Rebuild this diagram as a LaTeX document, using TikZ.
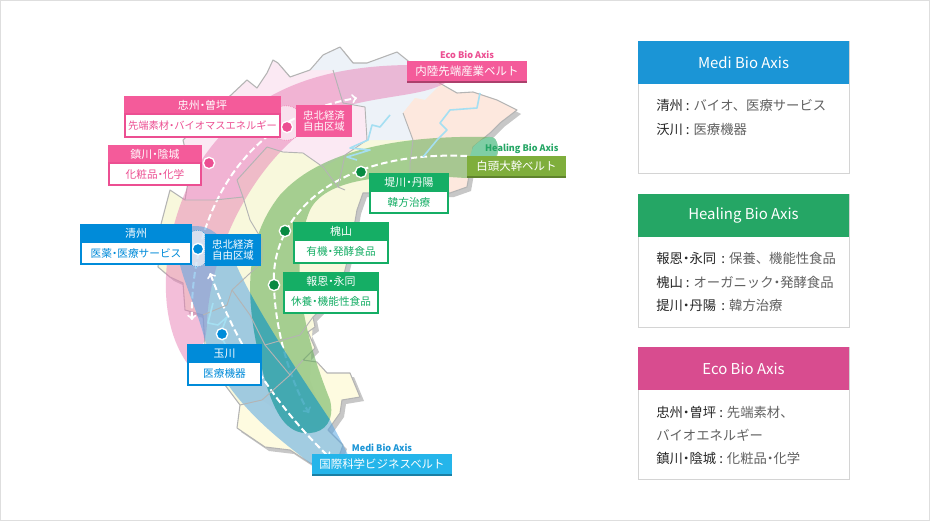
\documentclass[tikz,border=0pt]{standalone}
\usepackage{fontspec}
\setmainfont{Noto Sans CJK JP}
\usetikzlibrary{positioning}
\definecolor{ecopink}{HTML}{F45B9A}
\definecolor{ecotext}{HTML}{EC4F92}
\definecolor{medblue}{HTML}{008BD9}
\definecolor{healgreen}{HTML}{15AE65}
\definecolor{pingreen}{HTML}{088A42}
\definecolor{panelblue}{HTML}{1B95D6}
\definecolor{panelgreen}{HTML}{25A665}
\definecolor{panelpink}{HTML}{D84C8F}
\definecolor{beltsky}{HTML}{25B5EA}
\definecolor{beltolive}{HTML}{7FAE3C}
\definecolor{mapline}{HTML}{B4B4B4}
\definecolor{river}{HTML}{A5DFF2}
\definecolor{mapbase}{HTML}{F8F8DC}
\definecolor{mappink}{HTML}{FBE9F3}
\definecolor{mapsky}{HTML}{EDF2F8}
\definecolor{mappeach}{HTML}{FDE8DE}
\definecolor{mapcream}{HTML}{FEFBE0}
\definecolor{ecobelt}{HTML}{E87FB5}
\definecolor{healbelt}{HTML}{61AD52}
\definecolor{medbelt}{HTML}{58A6E3}
\definecolor{overlapteal}{HTML}{1FA0AA}
\definecolor{healmint}{HTML}{7FCEA5}
\newcommand{\nakaten}{\hspace{-.25em}・\hspace{-.25em}}
\newcommand{\mapoutline}{(247,80) -- (257,88) -- (267,73) -- (273,60) -- (278,63) -- (290,77) -- (310,70) -- (323,55) -- (340,47) -- (353,63) -- (367,63) -- (397,52) -- (407,60) -- (425,75) -- (443,85) -- (457,93) -- (473,92) -- (497,100) -- (517,110) -- (500,123) -- (490,133) -- (473,147) -- (470,170) -- (467,187) -- (450,193) -- (423,193) -- (363,193) -- (357,210) -- (350,250) -- (340,290) -- (313,317) -- (315,327) -- (308,332) -- (315,348) -- (303,360) -- (317,362) -- (327,373) -- (350,373) -- (360,397) -- (342,400) -- (340,413) -- (328,430) -- (343,445) -- (335,468) -- (310,463) -- (290,450) -- (265,447) -- (237,428) -- (240,405) -- (225,385) -- (205,345) -- (203,315) -- (185,310) -- (183,283) -- (170,277) -- (158,267) -- (160,228) -- (170,190) -- (185,200) -- (190,170) -- (183,140) -- (215,110) -- cycle}
\newcommand{\healpath}{(490,137) .. controls (400,135) and (320,150) .. (280,195) .. controls (240,245) and (245,310) .. (267,387) .. controls (275,410) and (285,435) .. (310,433) .. controls (325,432) and (335,420) .. (330,400) .. controls (310,350) and (285,270) .. (310,210) .. controls (325,180) and (380,172) .. (465,178) .. controls (485,178) and (500,160) .. (498,148) .. controls (497,140) and (495,137) .. (490,137) -- cycle}
\newcommand{\medipath}{(196,226) .. controls (210,226) and (222,235) .. (232,255) .. controls (250,300) and (290,360) .. (330,420) .. controls (340,440) and (350,455) .. (355,475) -- (330,476) .. controls (320,472) and (315,468) .. (310,463) .. controls (280,440) and (225,400) .. (205,340) .. controls (197,310) and (185,285) .. (180,265) .. controls (176,240) and (180,226) .. (196,226) -- cycle}
\tikzset{
>=to, % open arrow heads
wh/.style 2 args={minimum width=#1*0.75pt, minimum height=#2*0.75pt}, % sizes in pixels of the reference
labhead/.style={fill=#1, draw=#1, line width=0.8pt, text=white, inner sep=0pt, outer sep=0pt, font=\fontsize{8.2}{9}\selectfont},
labbody/.style={fill=white, draw=#1, line width=0.8pt, text=#1, inner sep=0pt, outer sep=0pt, font=\fontsize{8}{9}\selectfont},
zonebox/.style={fill=#1, text=white, inner sep=0pt, outer sep=0pt, align=center, font=\fontsize{7.8}{8.2}\selectfont},
beltbox/.style={fill=#1, text=white, inner sep=0pt, outer sep=0pt, font=\fontsize{8.6}{10}\selectfont},
axistext/.style={text=#1, inner sep=0pt, font=\fontsize{6.8}{8}\selectfont\bfseries},
panelhead/.style={fill=#1, text=white, anchor=north west, inner sep=0pt, outer sep=0pt, font=\fontsize{11.2}{13}\selectfont},
panelbody/.style={fill=white, draw=black!17, inner sep=0pt, outer sep=0pt},
panelline/.style={anchor=west, inner sep=0pt, text=black!62, font=\fontsize{10}{12}\selectfont},
pin dot/.style={circle, fill=#1, draw=white, line width=1pt, minimum size=8.5pt, inner sep=0pt},
route/.style={white, line width=1.5pt, dash pattern=on 5pt off 2.5pt},
zone/.style={fill=white, fill opacity=0.6, draw=#1, densely dotted},
mapedge/.style={mapline, line width=0.7pt, line join=round},
riverline/.style={river, line width=1.2pt, line join=round},
}
\begin{document}
\begin{tikzpicture}[x=0.75pt, y=-0.75pt]
\useasboundingbox (0,0) rectangle (930,521);
\draw[black!13, fill=white] (0.5,0.5) rectangle (929.5,520.5);

% map
\fill[black!22, xshift=3pt, yshift=-3pt] \mapoutline;
\fill[mapbase] \mapoutline;
\fill[mappink] (247,80) -- (257,88) -- (267,73) -- (273,60) -- (278,63) -- (290,77) -- (310,70) -- (333,70) -- (343,103) -- (365,107) -- (367,140) -- (345,155) -- (323,167) -- (303,153) -- (283,152) -- (267,147) -- (237,180) -- (243,197) -- (215,200) -- (185,200) -- (190,170) -- (183,140) -- (215,110) -- cycle;
\fill[mapsky] (310,70) -- (323,55) -- (340,47) -- (353,63) -- (367,63) -- (397,52) -- (407,60) -- (425,75) -- (440,85) -- (425,100) -- (415,98) -- (403,113) -- (413,140) -- (367,140) -- (365,107) -- (343,103) -- (333,70) -- cycle;
\fill[mappeach] (440,85) -- (457,93) -- (473,92) -- (497,100) -- (517,110) -- (500,123) -- (490,133) -- (473,147) -- (470,170) -- (467,187) -- (450,193) -- (410,193) -- (410,163) -- (413,140) -- (403,113) -- (415,98) -- (425,100) -- cycle;
\fill[mapcream] (240,405) -- (262,400) -- (290,420) -- (328,430) -- (343,445) -- (335,468) -- (310,463) -- (290,450) -- (265,447) -- (237,428) -- cycle;
\fill[mapcream] (313,317) -- (315,327) -- (308,332) -- (315,348) -- (303,360) -- (317,362) -- (327,373) -- (350,373) -- (360,397) -- (342,400) -- (340,413) -- (328,430) -- (310,380) -- cycle;
\draw[mapline, line width=0.8pt, line join=round] \mapoutline;

% eco belt
\fill[ecobelt, fill opacity=0.5] (408,65) .. controls (330,66) and (255,85) .. (205,155) .. controls (165,215) and (150,310) .. (187,363) .. controls (205,350) and (207,335) .. (207,320) .. controls (212,240) and (265,135) .. (350,105) .. controls (390,95) and (425,95) .. (445,83) -- cycle;
\coordinate (ecoTop) at (357,98);
\coordinate (ecoEnd) at (192,320);
\draw[route, <->] (ecoEnd) .. controls (190,240) and (225,120) .. (ecoTop);

% healing belt
\fill[healbelt, fill opacity=0.55] \healpath;
\fill[healmint] (473,147) .. controls (480,140) and (486,137) .. (490,137) .. controls (495,137) and (497,140) .. (498,148) .. controls (498,152) and (497,154) .. (496,156) -- (470,156) -- cycle;
\coordinate (healTop) at (467,156);
\coordinate (healEnd) at (309,413);
\draw[route, ->] (healTop) .. controls (330,150) and (270,220) .. (274,285) .. controls (275,330) and (290,380) .. (healEnd);

% medi belt
\fill[medbelt, fill opacity=0.55] \medipath;
\begin{scope}
\clip \healpath;
\fill[overlapteal, fill opacity=0.6] \medipath;
\end{scope}
\coordinate (medTop) at (210,273);
\coordinate (medEnd) at (330,458);
\draw[route, <->] (medTop) .. controls (235,340) and (270,400) .. (medEnd);

% county lines and rivers
\draw[mapedge] (333,70) -- (343,103) -- (365,107) -- (367,140) -- (345,155) -- (338,187) -- (345,190);
\draw[mapedge] (267,147) -- (283,152) -- (303,153) -- (323,167) -- (338,187);
\draw[mapedge] (267,147) -- (237,180) -- (243,197) -- (215,200) -- (185,200);
\draw[mapedge] (243,197) -- (250,220) -- (262,240) -- (262,262) -- (232,290) -- (227,305) -- (203,315);
\draw[mapedge] (232,290) -- (250,315) -- (260,335) -- (265,345) -- (300,335) -- (313,317);
\draw[mapedge] (265,345) -- (290,375) -- (262,400) -- (240,405);
\draw[mapedge] (290,375) -- (303,360);
\draw[mapedge] (403,113) -- (413,140) -- (410,163) -- (410,193);
\draw[riverline] (390,115) -- (380,127) -- (372,125) -- (368,140) -- (350,148) -- (370,150) -- (347,157) -- (357,160);
\draw[riverline] (480,93) -- (477,108) -- (450,110) -- (440,123) -- (447,130) -- (437,140) -- (423,157);
\draw[riverline] (213,303) -- (208,323) -- (218,325) -- (227,317) -- (220,335) -- (227,347);

% zones and pins
\draw[zone=ecotext] (275,111) .. controls (278,104) and (294,104) .. (297,111) -- (297,135) .. controls (294,142) and (278,142) .. (275,135) -- cycle;
\draw[zone=medblue] (190,234) .. controls (193,229) and (202,229) .. (205,234) -- (205,263) .. controls (202,268) and (193,268) .. (190,263) -- cycle;
\node[pin dot=ecotext] (pinChungju) at (287,127) {};
\node[pin dot=ecotext] (pinJincheon) at (209,163) {};
\node[pin dot=medblue] (pinCheongju) at (198,249) {};
\node[pin dot=medblue] (pinOkcheon) at (222,334) {};
\node[pin dot=pingreen] (pinJecheon) at (361,172) {};
\node[pin dot=pingreen] (pinGoesan) at (285,231) {};
\node[pin dot=pingreen] (pinBoeun) at (274,285) {};

% county labels
\node[labhead=ecopink, wh={155}{17}] (chungjuH) at (202.5,105.5) {忠州\nakaten 曽坪};
\node[labbody=ecotext, wh={155}{23}, below=0pt of chungjuH, font=\fontsize{7.7}{9}\selectfont] (chungjuB) {先端素材\nakaten バイオマスエネルギー};
\node[labhead=ecopink, wh={92}{17}] (jincheonH) at (155,154.5) {鎮川\nakaten 陰城};
\node[labbody=ecotext, wh={92}{22}, below=0pt of jincheonH] (jincheonB) {化粧品\nakaten 化学};
\node[labhead=medblue, wh={110}{17}] (cheongjuH) at (136,233.5) {清州};
\node[labbody=medblue, wh={110}{22}, below=0pt of cheongjuH] (cheongjuB) {医薬\nakaten 医療サービス};
\node[labhead=medblue, wh={73}{17}] (okcheonH) at (224.5,353.5) {玉川};
\node[labbody=medblue, wh={73}{23}, below=0pt of okcheonH] (okcheonB) {医療機器};
\node[labhead=healgreen, wh={94}{17}] (goesanH) at (341,231.5) {槐山};
\node[labbody=healgreen, wh={94}{23}, below=0pt of goesanH] (goesanB) {有機\nakaten 発酵食品};
\node[labhead=healgreen, wh={94}{17}] (boeunH) at (331,281.5) {報恩\nakaten 永同};
\node[labbody=healgreen, wh={94}{23}, below=0pt of boeunH] (boeunB) {休養\nakaten 機能性食品};
\node[labhead=healgreen, wh={78}{17}] (jecheonH) at (409,182.5) {堤川\nakaten 丹陽};
\node[labbody=healgreen, wh={78}{22}, below=0pt of jecheonH] (jecheonB) {韓方治療};
\node[zonebox=ecopink, wh={56}{32}] (zonePink) at (324,121) {忠北経済\\自由区域};
\node[zonebox=medblue, wh={56}{32}] (zoneBlue) at (233,250) {忠北経済\\自由区域};

% belt labels
\node[beltbox=ecopink, wh={120}{20}] (ecoBelt) at (467,71) {内陸先端産業ベルト};
\fill[ecopink!70!black] (ecoBelt.south west) rectangle ([yshift=-1.5pt]ecoBelt.south east);
\node[axistext=ecotext, above=1.5pt of ecoBelt] (ecoAxis) {Eco Bio Axis};
\node[beltbox=beltolive, wh={99}{20}] (healBelt) at (516.5,166) {白頭大幹ベルト};
\fill[beltolive!75!black] (healBelt.south west) rectangle ([yshift=-1.5pt]healBelt.south east);
\node[axistext=panelgreen, above=1.5pt of healBelt, xshift=4pt] (healAxis) {Healing Bio Axis};
\node[beltbox=beltsky, wh={140}{20}] (medBelt) at (382,464) {国際科学ビジネスベルト};
\fill[beltsky!70!black] (medBelt.south west) rectangle ([yshift=-1.5pt]medBelt.south east);
\node[axistext=panelblue, above=1.5pt of medBelt] (medAxis) {Medi Bio Axis};

% panels on the right
\node[panelbody, wh={211}{132}, anchor=north west] (mediBody) at (638,41) {};
\node[panelhead=panelblue, wh={211}{43}] (mediHead) at (638,41) {Medi Bio Axis};
\node[panelline] (mediA) at (656,105) {\textcolor{black!85}{清州 :} バイオ、医療サービス};
\node[panelline] (mediB) at (656,129) {\textcolor{black!85}{沃川 :} 医療機器};

\node[panelbody, wh={211}{133}, anchor=north west] (healBody) at (638,194) {};
\node[panelhead=panelgreen, wh={211}{43}] (healHead) at (638,194) {Healing Bio Axis};
\node[panelline] (healA) at (656,258) {\textcolor{black!85}{報恩\nakaten 永同 \,:} 保養、機能性食品};
\node[panelline] (healB) at (656,282) {\textcolor{black!85}{槐山 :} オーガニック\nakaten 発酵食品};
\node[panelline] (healC) at (656,305) {\textcolor{black!85}{提川\nakaten 丹陽 \,:} 韓方治療};

\node[panelbody, wh={211}{132}, anchor=north west] (ecoBody) at (638,347) {};
\node[panelhead=panelpink, wh={211}{43}] (ecoHead) at (638,347) {Eco Bio Axis};
\node[panelline] (ecoA) at (656,412) {\textcolor{black!85}{忠州\nakaten 曽坪 :} 先端素材、};
\node[panelline] (ecoB) at (656,435) {バイオエネルギー};
\node[panelline] (ecoC) at (656,458) {\textcolor{black!85}{鎮川\nakaten 陰城 :} 化粧品\nakaten 化学};
\end{tikzpicture}
\end{document}
